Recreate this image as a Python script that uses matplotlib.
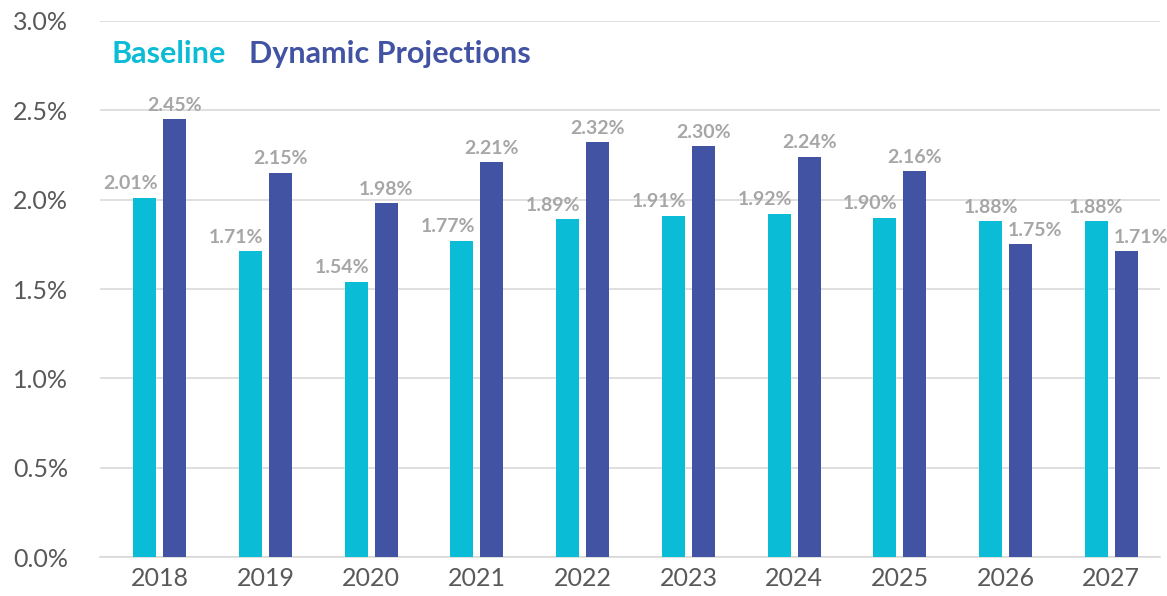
import numpy as np
import matplotlib.pyplot as plt
from matplotlib.ticker import FuncFormatter

# Data
years = ["2018", "2019", "2020", "2021", "2022", "2023", "2024", "2025", "2026", "2027"]
baseline = [2.01, 1.71, 1.54, 1.77, 1.89, 1.91, 1.92, 1.90, 1.88, 1.88]
dynamic = [2.45, 2.15, 1.98, 2.21, 2.32, 2.30, 2.24, 2.16, 1.75, 1.71]

cyan = "#0ABCD5"
blue = "#4353A4"
label_grey = "#A6A6A6"
tick_grey = "#595959"

plt.rcParams['font.family'] = ['Lato', 'DejaVu Sans']

fig = plt.figure(figsize=(11.67, 5.96), dpi=100)
ax = fig.add_axes([0.0857, 0.0654, 0.9083, 0.8994])

x = np.arange(len(years))
w = 0.218
off = 0.142
b1 = ax.bar(x - off, baseline, w, color=cyan, zorder=3)
b2 = ax.bar(x + off, dynamic, w, color=blue, zorder=3)

# value labels, nudged apart when the bars are close in height
for i in range(len(years)):
    if dynamic[i] > baseline[i]:
        ax.annotate(f"{baseline[i]:.2f}%", (x[i] - off + w / 2, baseline[i]),
                    xytext=(1, 4), textcoords="offset points", ha="right", va="bottom",
                    color=label_grey, fontsize=14, fontweight="bold")
        ax.annotate(f"{dynamic[i]:.2f}%", (x[i] + off, dynamic[i]),
                    xytext=(0, 4), textcoords="offset points", ha="center", va="bottom",
                    color=label_grey, fontsize=14, fontweight="bold")
    else:
        ax.annotate(f"{baseline[i]:.2f}%", (x[i] - off, baseline[i]),
                    xytext=(0, 4), textcoords="offset points", ha="center", va="bottom",
                    color=label_grey, fontsize=14, fontweight="bold")
        ax.annotate(f"{dynamic[i]:.2f}%", (x[i] + off - w / 2, dynamic[i]),
                    xytext=(-1, 4), textcoords="offset points", ha="left", va="bottom",
                    color=label_grey, fontsize=14, fontweight="bold")

ax.set_xlim(-0.565, 9.46)
ax.set_ylim(0, 3.0)
ax.set_yticks(np.arange(0, 3.01, 0.5))
ax.yaxis.set_major_formatter(FuncFormatter(lambda v, p: f"{v:.1f}%"))
ax.set_xticks(x)
ax.set_xticklabels(years)
ax.tick_params(axis="both", length=0, labelsize=18, labelcolor=tick_grey)
ax.tick_params(axis="y", pad=23)
ax.tick_params(axis="x", pad=7)
ax.grid(axis="y", color="#D9D9D9", linewidth=1.2, zorder=0)
for s in ["top", "right", "left"]:
    ax.spines[s].set_visible(False)
ax.spines["bottom"].set_color("#D9D9D9")
ax.spines["bottom"].set_linewidth(1.2)

# legend as coloured text
fig.text(112 / 1167, 1 - 63 / 596, "Baseline", color=cyan, fontsize=22,
         fontweight="bold", ha="left", va="baseline")
fig.text(249 / 1167, 1 - 63 / 596, "Dynamic Projections", color=blue, fontsize=22,
         fontweight="bold", ha="left", va="baseline")

fig.savefig("out.png", dpi=100)
